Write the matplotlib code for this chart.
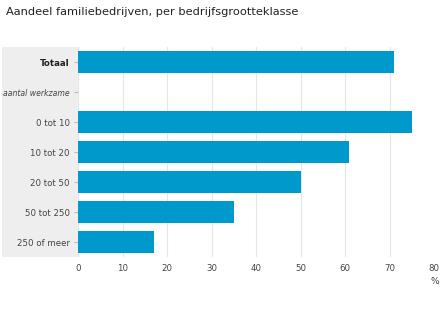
import matplotlib.pyplot as plt
import numpy as np
from matplotlib.patches import Rectangle

# Share of family businesses (%) per size class
categories = ['Totaal', 'aantal werkzame', '0 tot 10', '10 tot 20', '20 tot 50', '50 tot 250', '250 of meer']
values = [71, np.nan, 75, 61, 50, 35, 17]
x_ticks = [0, 10, 20, 30, 40, 50, 60, 70, 80]

fig = plt.figure(figsize=(4.48, 3.23), dpi=100)
ax = fig.add_axes([78 / 448, 1 - 257 / 323, 356 / 448, 210 / 323])

# grey panel behind the category labels
fig.patches.append(Rectangle((2 / 448, 1 - 257 / 323), 76 / 448, 210 / 323,
                             transform=fig.transFigure, facecolor='#eeeeee',
                             edgecolor='none', zorder=-5))

y = np.arange(len(categories))
ax.barh(y, values, height=0.74, color='#0099cc', zorder=3)

ax.set_xlim(0, 80)
ax.set_ylim(len(categories) - 0.5, -0.5)
ax.set_xticks(x_ticks)
ax.set_xticklabels([str(t) for t in x_ticks], fontsize=6.2, color='#444444')
ax.set_yticks(y)
ax.set_yticklabels(categories, fontsize=6.2, color='#444444')
ax.tick_params(axis='x', length=0, pad=5)
ax.tick_params(axis='y', length=3, width=0.8, color='#bbbbbb', pad=3)

labels = ax.get_yticklabels()
labels[0].set_fontweight('bold')
labels[0].set_color('#222222')
labels[1].set_fontstyle('italic')
labels[1].set_fontsize(5.6)

ax.grid(axis='x', color='#e6e6e6', linewidth=0.8, zorder=0)
for side in ['top', 'right', 'bottom', 'left']:
    ax.spines[side].set_visible(False)
ax.set_facecolor('none')

ax.text(1.015, -0.095, '%', transform=ax.transAxes, fontsize=6.5, color='#444444',
        ha='right', va='top')

fig.text(6 / 448, 1 - 12 / 323, 'Aandeel familiebedrijven, per bedrijfsgrootteklasse',
         fontsize=8.2, color='#222222', va='center', ha='left')

fig.savefig('out.png', dpi=100)
